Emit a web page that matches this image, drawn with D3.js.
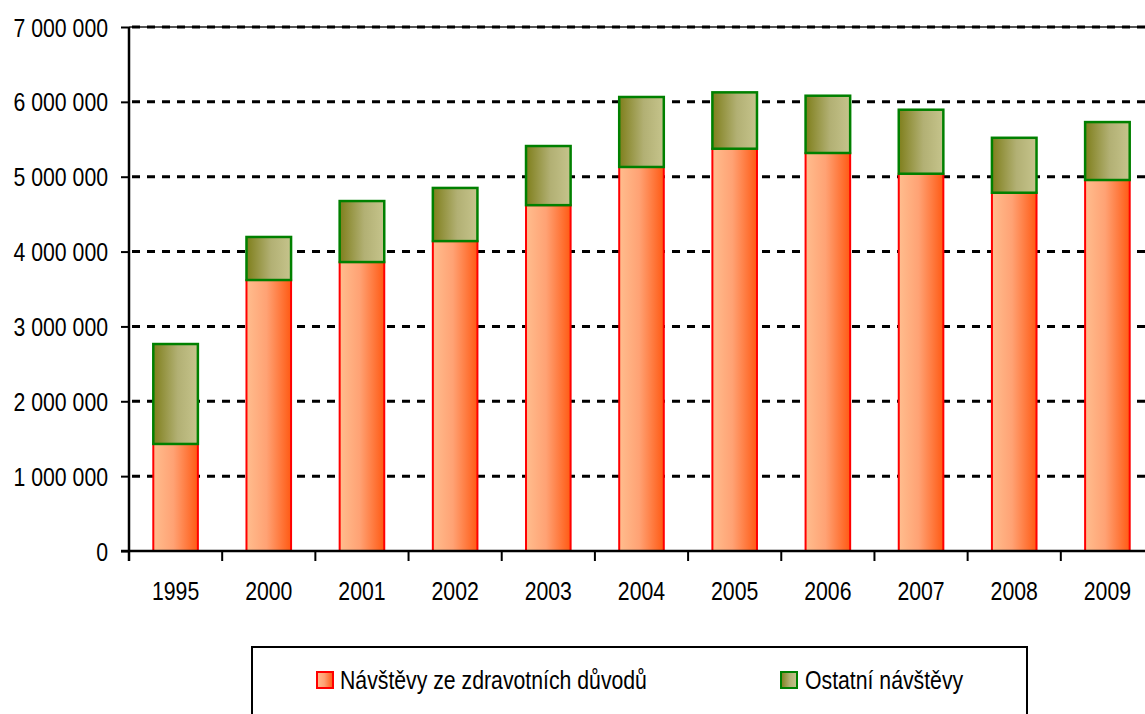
<!DOCTYPE html>
<html>
<head>
<meta charset="utf-8">
<script src="https://cdn.jsdelivr.net/npm/d3@7"></script>
<style>
  body { margin: 0; background: #fff; overflow: hidden; }
  text { font-family: "Liberation Sans", Arial, sans-serif; fill: #000; }
</style>
</head>
<body>
<script>
const years = ['1995', '2000', '2001', '2002', '2003', '2004', '2005', '2006', '2007', '2008', '2009'];
const healthVisits = [1430000, 3620000, 3860000, 4140000, 4620000, 5130000, 5374000, 5317000, 5040000, 4786000, 4956000];
const otherVisits = [1335000, 575000, 815000, 710000, 790000, 935000, 753000, 765000, 855000, 734000, 774000];
const yTicks = [0, 1000000, 2000000, 3000000, 4000000, 5000000, 6000000, 7000000];
const seriesNames = ['Návštěvy ze zdravotních důvodů', 'Ostatní návštěvy'];

const width = 1145, height = 714;
const margin = { left: 129, top: 27, bottom: 163 };
const plotW = 1025, plotH = height - margin.top - margin.bottom;
const squeeze = 0.85; // text in the original is narrow

const svg = d3.select('body').append('svg')
    .attr('width', width)
    .attr('height', height);

//gradients
const defs = svg.append('defs');
const redGrad = defs.append('linearGradient').attr('id', 'redGrad');
redGrad.append('stop').attr('offset', '0%').attr('stop-color', '#ffbd8e');
redGrad.append('stop').attr('offset', '45%').attr('stop-color', '#ffa274');
redGrad.append('stop').attr('offset', '100%').attr('stop-color', '#ff5a14');
const greenGrad = defs.append('linearGradient').attr('id', 'greenGrad');
greenGrad.append('stop').attr('offset', '0%').attr('stop-color', '#7f7f1c');
greenGrad.append('stop').attr('offset', '55%').attr('stop-color', '#b2b074');
greenGrad.append('stop').attr('offset', '100%').attr('stop-color', '#c6c48c');

const g = svg.append('g').attr('transform', `translate(${margin.left},${margin.top})`);

const x = d3.scaleBand().domain(years).range([0, plotW]).paddingInner(0.5).paddingOuter(0.25);
const y = d3.scaleLinear().domain([0, 7000000]).range([plotH, 0]);

const fmt = d => d3.format(',')(d).replace(/,/g, ' ');

//top border
g.append('line')
    .attr('x1', 0).attr('x2', plotW)
    .attr('y1', y(7000000)).attr('y2', y(7000000))
    .attr('stroke', '#555').attr('stroke-width', 2);

//gridlines
g.append('g').selectAll('line')
    .data(yTicks.filter(d => d > 0))
    .enter().append('line')
    .attr('x1', 0).attr('x2', plotW)
    .attr('y1', d => y(d)).attr('y2', d => y(d))
    .attr('stroke', '#000')
    .attr('stroke-width', 3)
    .attr('stroke-dasharray', '8,7')
    .attr('stroke-dashoffset', -3);

//stacked bars
const stackData = years.map((yr, i) => ({ year: yr, health: healthVisits[i], other: otherVisits[i] }));

g.append('g').selectAll('rect')
    .data(stackData)
    .enter().append('rect')
    .attr('x', d => x(d.year) + 1)
    .attr('y', d => y(d.health))
    .attr('width', x.bandwidth() - 2)
    .attr('height', d => y(0) - y(d.health))
    .attr('fill', 'url(#redGrad)')
    .attr('stroke', '#ff0000')
    .attr('stroke-width', 2);

g.append('g').selectAll('rect')
    .data(stackData)
    .enter().append('rect')
    .attr('x', d => x(d.year) + 1)
    .attr('y', d => y(d.health + d.other))
    .attr('width', x.bandwidth() - 2)
    .attr('height', d => y(d.health) - y(d.health + d.other))
    .attr('fill', 'url(#greenGrad)')
    .attr('stroke', '#008000')
    .attr('stroke-width', 2.5);

//y axis
const yAxis = g.append('g')
    .call(d3.axisLeft(y).tickValues(yTicks).tickSize(8).tickFormat(fmt));
yAxis.select('.domain').attr('stroke', '#000').attr('stroke-width', 2.5).attr('d', `M0,${plotH + 10}V0`);
yAxis.selectAll('.tick line').attr('stroke', '#000').attr('stroke-width', 2);
yAxis.selectAll('.tick text')
    .style('font-size', '25px')
    .attr('x', 0).attr('dy', '0.36em')
    .attr('transform', `translate(-21,0) scale(${squeeze},1)`);

//x axis
const xAxis = g.append('g')
    .attr('transform', `translate(0,${plotH})`)
    .call(d3.axisBottom(x).tickSize(0).tickPadding(31));
xAxis.select('.domain').attr('stroke', '#000').attr('stroke-width', 2.5).attr('d', `M-8,0H${plotW}`);
xAxis.selectAll('.tick text')
    .style('font-size', '25px')
    .attr('transform', `scale(${squeeze},1)`);
xAxis.append('g').selectAll('line')
    .data(years)
    .enter().append('line')
    .attr('x1', d => x(d) - x.step() * 0.25)
    .attr('x2', d => x(d) - x.step() * 0.25)
    .attr('y1', 0).attr('y2', 10)
    .attr('stroke', '#000').attr('stroke-width', 2);

//legend
const legend = svg.append('g').attr('transform', 'translate(252,647)');
legend.append('rect')
    .attr('width', 775).attr('height', 80)
    .attr('fill', '#fff').attr('stroke', '#000').attr('stroke-width', 2);
const legendItems = [
    { name: seriesNames[0], fill: 'url(#redGrad)', stroke: '#ff0000', x: 65, tx: 88 },
    { name: seriesNames[1], fill: 'url(#greenGrad)', stroke: '#008000', x: 529, tx: 553 }
];
const li = legend.selectAll('.item').data(legendItems).enter().append('g').attr('class', 'item');
li.append('rect')
    .attr('x', d => d.x).attr('y', 25)
    .attr('width', 16).attr('height', 16)
    .attr('fill', d => d.fill).attr('stroke', d => d.stroke).attr('stroke-width', 2);
li.append('text')
    .attr('transform', d => `translate(${d.tx},42) scale(${squeeze},1)`)
    .style('font-size', '25px')
    .text(d => d.name);
</script>
</body>
</html>
